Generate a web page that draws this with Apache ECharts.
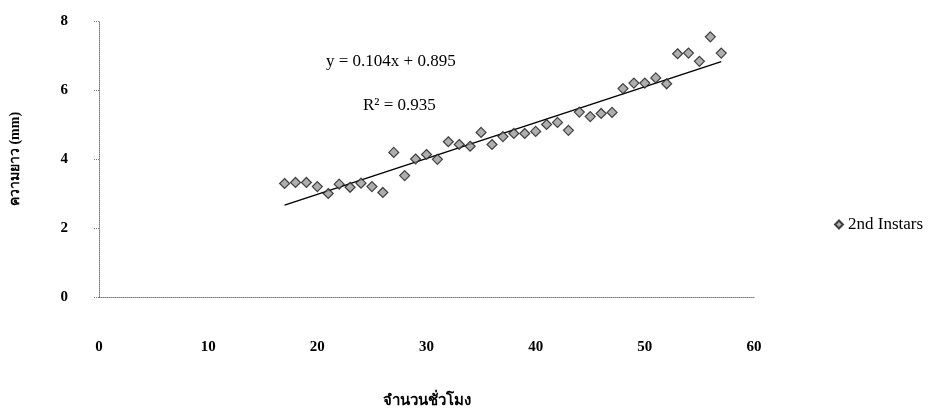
<!DOCTYPE html>
<html>
<head>
<meta charset="utf-8">
<script src="https://cdn.jsdelivr.net/npm/echarts@6/dist/echarts.min.js"></script>
<style>
html,body{margin:0;padding:0;background:#fff;}
#chart{width:939px;height:414px;}
</style>
</head>
<body>
<div id="chart"></div>
<script>
// Data
const hours = [17,18,19,20,21,22,23,24,25,26,27,28,29,30,31,32,33,34,35,36,37,38,39,40,41,42,43,44,45,46,47,48,49,50,51,52,53,54,55,56,57];
const lengths = [3.29,3.32,3.32,3.2,3.0,3.27,3.18,3.3,3.2,3.03,4.19,3.52,4.0,4.13,3.99,4.5,4.42,4.37,4.77,4.42,4.65,4.74,4.74,4.8,5.0,5.06,4.83,5.36,5.23,5.32,5.35,6.04,6.2,6.2,6.35,6.18,7.05,7.07,6.83,7.54,7.07];
const trendSlope = 0.104;
const trendIntercept = 0.895;
const xTicks = [0,10,20,30,40,50,60];
const yTicks = [0,2,4,6,8];
const seriesName = '2nd Instars';
const xTitle = 'จำนวนชั่วโมง';
const yTitle = 'ความยาว (mm)';
const eqText = 'y = 0.104x + 0.895';
const r2Text = 'R² = 0.935';

const pts = hours.map((h,i)=>[h, lengths[i]]);
const xMinD = Math.min(...hours), xMaxD = Math.max(...hours);
const trend = [[xMinD, trendSlope*xMinD+trendIntercept],[xMaxD, trendSlope*xMaxD+trendIntercept]];

const serif = '"Liberation Serif","DejaVu Serif",serif';
const chart = echarts.init(document.getElementById('chart'));
chart.setOption({
  animation:false,
  backgroundColor:'#fff',
  grid:{left:91,right:185,top:21,bottom:116,containLabel:false},
  xAxis:{
    type:'value', min:xTicks[0], max:xTicks[xTicks.length-1], interval:10,
    name:xTitle, nameLocation:'middle', nameGap:97,
    nameTextStyle:{fontFamily:serif,fontSize:15,fontWeight:'bold',color:'#000'},
    axisLine:{show:true,lineStyle:{color:'#777',type:'dotted',width:1}},
    axisTick:{show:false},
    splitLine:{show:false},
    axisLabel:{margin:43,fontFamily:serif,fontSize:15,fontWeight:'bold',color:'#000'}
  },
  yAxis:{
    type:'value', min:yTicks[0], max:yTicks[yTicks.length-1], interval:2,
    name:yTitle, nameLocation:'middle', nameGap:77, nameRotate:90,
    nameTextStyle:{fontFamily:serif,fontSize:14,fontWeight:'bold',color:'#000'},
    axisLine:{show:true,lineStyle:{color:'#777',type:'dotted',width:1}},
    axisTick:{show:true,length:5,lineStyle:{color:'#777',type:'dotted'}},
    splitLine:{show:false},
    axisLabel:{margin:31,fontFamily:serif,fontSize:15,fontWeight:'bold',color:'#000'}
  },
  legend:{
    show:true, left:829, top:211, orient:'vertical',
    data:[{name:seriesName, icon:'diamond'}],
    itemWidth:8, itemHeight:8, itemGap:4,
    textStyle:{fontFamily:serif,fontSize:17,color:'#000'}
  },
  graphic:[
    {type:'text', left:326, top:53, style:{text:eqText, font:'17px '+serif, fill:'#000'}},
    {type:'text', left:363, top:97, style:{text:r2Text, font:'17px '+serif, fill:'#000'}}
  ],
  series:[
    {
      name:seriesName, type:'scatter', data:pts,
      symbol:'diamond', symbolSize:10,
      itemStyle:{color:'#9a9a9a',borderColor:'#1a1a1a',borderWidth:1.2},
      z:3
    },
    {
      name:'trend', type:'line', data:trend, symbol:'none',
      lineStyle:{color:'#000',width:1.5}, silent:true, z:2
    }
  ]
});
</script>
</body>
</html>
